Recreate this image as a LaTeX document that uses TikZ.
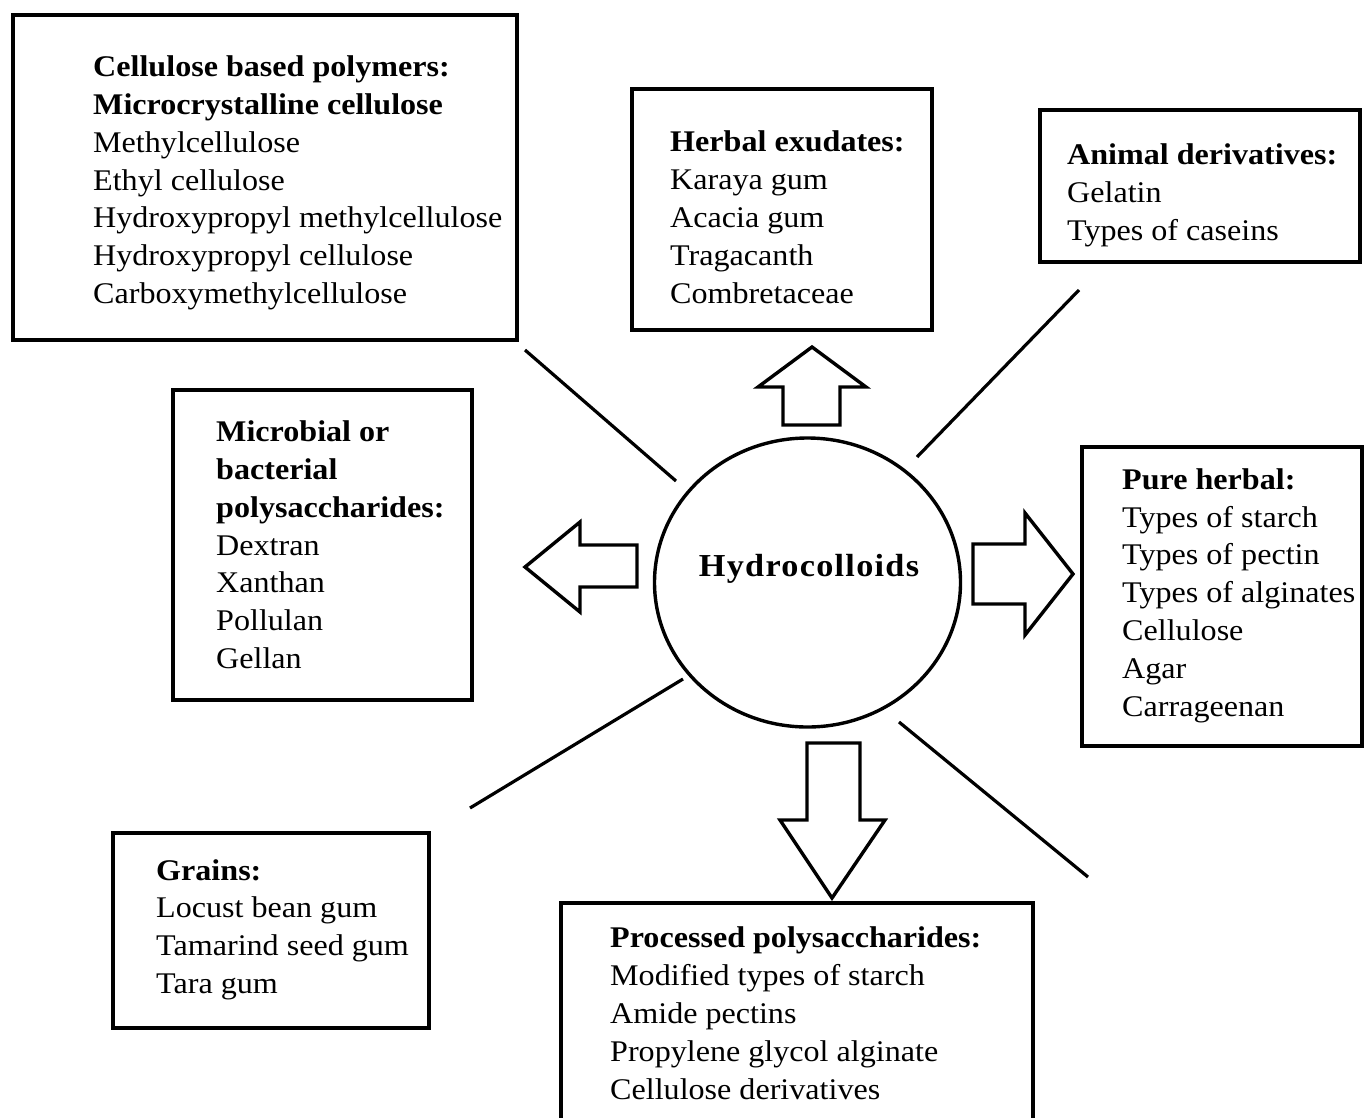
\documentclass[tikz,border=0pt]{standalone}
\usepackage{fontspec}
\setmainfont{Liberation Serif}[FakeStretch=1.07]
\usetikzlibrary{fit,shapes.geometric}
\begin{document}
\begin{tikzpicture}[x=1pt,y=-1pt,
  box/.style={draw, line width=4pt, inner sep=0pt},
  txt/.style={align=left, anchor=base west, inner sep=0pt, font=\fontsize{30}{37.8}\selectfont},
  blk/.style={draw, line width=3.4pt, line join=miter},
  ln/.style={line width=3.2pt}]
\useasboundingbox[fill=white] (0,0) rectangle (1364,1117);

% boxes
\node[box, fit={(13,15) (517,340)}] (b1) {};
\node[box, fit={(632,89) (932,330)}] (b2) {};
\node[box, fit={(1040,110) (1360,262)}] (b3) {};
\node[box, fit={(173,390) (472,700)}] (b4) {};
\node[box, fit={(1082,447) (1362,746)}] (b5) {};
\node[box, fit={(113,833) (429,1028)}] (b6) {};
\node[box, fit={(561,903) (1033,1125)}] (b7) {};

% texts (anchored at the baseline of their last line)
\node[txt] (t1) at (93,303.5) {\textbf{Cellulose based polymers:}\\\textbf{Microcrystalline cellulose}\\Methylcellulose\\Ethyl cellulose\\Hydroxypropyl methylcellulose\\Hydroxypropyl cellulose\\Carboxymethylcellulose};
\node[txt] (t2) at (670,303) {\textbf{Herbal exudates:}\\Karaya gum\\Acacia gum\\Tragacanth\\Combretaceae};
\node[txt] (t3) at (1067,240.5) {\textbf{Animal derivatives:}\\Gelatin\\Types of caseins};
\node[txt] (t4) at (216,668.5) {\textbf{Microbial or}\\\textbf{bacterial}\\\textbf{polysaccharides:}\\Dextran\\Xanthan\\Pollulan\\Gellan};
\node[txt] (t5) at (1122,716) {\textbf{Pure herbal:}\\Types of starch\\Types of pectin\\Types of alginates\\Cellulose\\Agar\\Carrageenan};
\node[txt] (t6) at (156,993.5) {\textbf{Grains:}\\Locust bean gum\\Tamarind seed gum\\Tara gum};
\node[txt] (t7) at (610,1099) {\textbf{Processed polysaccharides:}\\Modified types of starch\\Amide pectins\\Propylene glycol alginate\\Cellulose derivatives};

% centre
\node[draw, ellipse, line width=3.4pt, minimum width=306pt, minimum height=289pt, inner sep=0pt] (hc) at (807.5,582.5) {};
\node[inner sep=0pt, anchor=base, font=\fontsize{32}{36}\selectfont\bfseries\addfontfeatures{LetterSpace=4}] (hct) at (809,576) {Hydrocolloids};

% block arrows
\draw[blk] (783,425) -- (783,387) -- (758,387) -- (812,347) -- (866,387) -- (840,387) -- (840,425) -- cycle;
\draw[blk] (637,545) -- (580,545) -- (580,522) -- (525,567) -- (580,612) -- (580,587) -- (637,587) -- cycle;
\draw[blk] (973,544) -- (1025,544) -- (1025,513) -- (1073,574) -- (1025,635) -- (1025,604) -- (973,604) -- cycle;
\draw[blk] (807,743) -- (860,743) -- (860,820) -- (885,820) -- (832,898) -- (780,820) -- (807,820) -- cycle;

% plain connectors
\coordinate (l1a) at (525,350); \coordinate (l1b) at (676,481);
\coordinate (l2a) at (1079,290); \coordinate (l2b) at (917,457);
\coordinate (l3a) at (683,679); \coordinate (l3b) at (470,808);
\coordinate (l4a) at (899,722); \coordinate (l4b) at (1088,877);
\draw[ln] (l1a) -- (l1b);
\draw[ln] (l2a) -- (l2b);
\draw[ln] (l3a) -- (l3b);
\draw[ln] (l4a) -- (l4b);
\end{tikzpicture}
\end{document}
